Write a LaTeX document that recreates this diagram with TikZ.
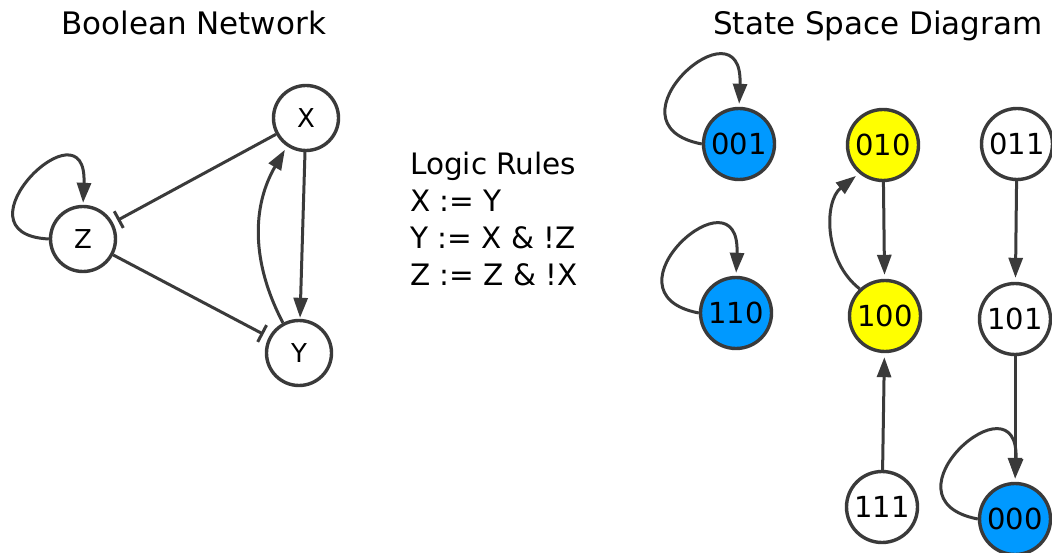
\documentclass[tikz,border=0pt]{standalone}
\usepackage{fontspec}
\setmainfont{DejaVu Sans}
\usetikzlibrary{arrows.meta}
\definecolor{edgegray}{HTML}{3A3A3A}
\definecolor{stateblue}{HTML}{0099FF}
\definecolor{stateyellow}{HTML}{FFFF00}
\begin{document}
\begin{tikzpicture}[x=1pt,y=-1pt,
  gene/.style={circle,draw=edgegray,line width=3.4pt,minimum size=65pt,inner sep=0pt,
    font=\fontsize{26pt}{26pt}\selectfont},
  state/.style={circle,draw=edgegray,line width=3.4pt,minimum size=71pt,inner sep=0pt,
    font=\fontsize{29pt}{29pt}\selectfont},
  act/.style={draw=edgegray,line width=3pt,-{Triangle[length=20pt,width=14pt]}},
  inh/.style={draw=edgegray,line width=3pt,-{Bar[width=19pt]}},
  heading/.style={anchor=base west,inner sep=0pt,font=\fontsize{31pt}{31pt}\selectfont},
  ruleline/.style={anchor=base west,inner sep=0pt,font=\fontsize{29.5pt}{29.5pt}\selectfont}]
\useasboundingbox (0,0) rectangle (1052,553);

% headings
\node[heading] (hbn) at (61,35) {Boolean Network};
\node[heading] (hss) at (713,35) {State Space Diagram};

% Boolean network
\node[gene] (X) at (306,118) {X};
\node[gene] (Z) at (83,239) {Z};
\node[gene] (Y) at (299,353) {Y};

\draw[act,shorten >=2pt] (Z.west) .. controls +(-100,-5) and +(5,-108) .. (Z.north);
\draw[inh,shorten >=5pt] (X) -- (Z);
\draw[inh,shorten >=6pt] (Z) -- (Y);
\draw[act,shorten >=1pt] (X) -- (Y);
\draw[act,shorten >=4pt] (Y.118) to[bend left=29] (X.236);

% logic rules
\node[ruleline] (r0) at (410,175) {Logic Rules};
\node[ruleline] (r1) at (410,212) {X := Y};
\node[ruleline] (r2) at (410,249) {Y := X \& !Z};
\node[ruleline] (r3) at (410,286) {Z := Z \& !X};

% state space
\node[state,fill=stateblue]   (s001) at (739,144)  {001};
\node[state,fill=stateyellow] (s010) at (883,145)  {010};
\node[state,fill=white]       (s011) at (1017,144) {011};
\node[state,fill=stateblue]   (s110) at (736,313)  {110};
\node[state,fill=stateyellow] (s100) at (885,316)  {100};
\node[state,fill=white]       (s101) at (1015,319) {101};
\node[state,fill=white]       (s111) at (882,507)  {111};
\node[state,fill=stateblue]   (s000) at (1015,519) {000};

\draw[act,shorten >=3pt] (s001.west) .. controls +(-103,-20) and +(5,-111) .. (s001.north);
\draw[act,shorten >=3pt] (s110.west) .. controls +(-103,-20) and +(5,-111) .. (s110.north);
\draw[act,shorten >=3pt] (s000.west) .. controls +(-103,-20) and +(5,-111) .. (s000.north);

\draw[act,shorten >=4pt] (s010) -- (s100);
\draw[act,shorten >=4pt] (s100.133) to[bend left=52] (s010.230);
\draw[act,shorten >=4pt] (s011) -- (s101);
\draw[act,shorten >=4pt] (s101) -- (s000);
\draw[act,shorten >=4pt] (s111) -- (s100);
\end{tikzpicture}
\end{document}
